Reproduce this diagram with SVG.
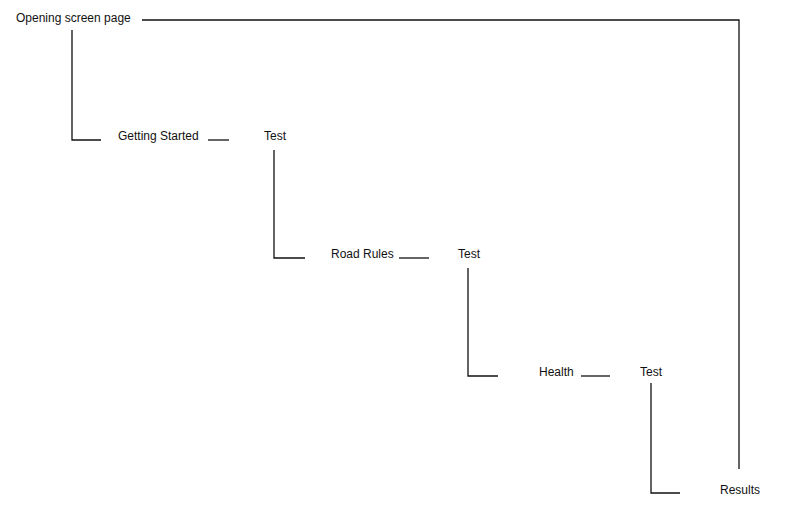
<svg xmlns="http://www.w3.org/2000/svg" width="800" height="510" viewBox="0 0 800 510">
<style>
text{font-family:"Liberation Sans",Arial,sans-serif;font-size:12px;fill:#111}
.c{fill:none;stroke:#111;stroke-width:1.3}
</style>
<rect width="800" height="510" fill="#fff"/>
<g id="connectors">
<polyline class="c" points="142,20 739,20 739,469"/>
<polyline class="c" points="72,30 72,140 101,140"/>
<line class="c" x1="208" y1="140" x2="229" y2="140"/>
<polyline class="c" points="274,150 274,258 305,258"/>
<line class="c" x1="399" y1="258" x2="429" y2="258"/>
<polyline class="c" points="468,268 468,376 498,376"/>
<line class="c" x1="581" y1="376" x2="610" y2="376"/>
<polyline class="c" points="651,383 651,493 680,493"/>
</g>
<g id="opening"><text x="16" y="22">Opening screen page</text></g>
<g id="getting-started"><text x="118" y="140">Getting Started</text></g>
<g id="test1"><text x="264" y="140">Test</text></g>
<g id="road-rules"><text x="331" y="258">Road Rules</text></g>
<g id="test2"><text x="458" y="258">Test</text></g>
<g id="health"><text x="539" y="376">Health</text></g>
<g id="test3"><text x="640" y="376">Test</text></g>
<g id="results"><text x="720" y="494">Results</text></g>
</svg>
